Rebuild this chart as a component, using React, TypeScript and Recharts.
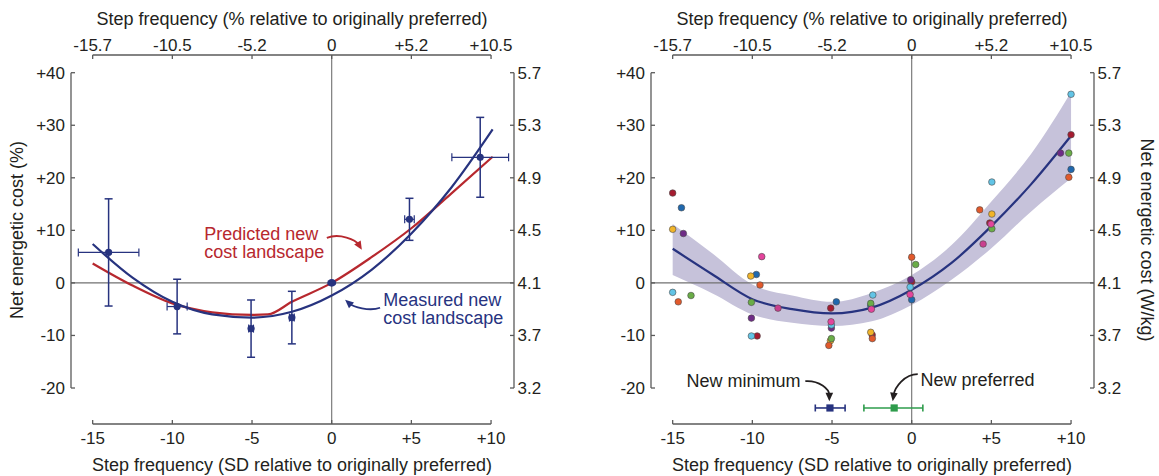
import React from "react";
import {
  ComposedChart,
  Line,
  Area,
  Scatter,
  ErrorBar,
  XAxis,
  YAxis,
  ReferenceLine,
  ReferenceDot,
} from "recharts";

// ---- shared axes ----
const X_TICKS = [-15, -10, -5, 0, 5, 10];
const X_SD_LABELS = ["-15", "-10", "-5", "0", "+5", "+10"];
const X_PCT_LABELS = ["-15.7", "-10.5", "-5.2", "0", "+5.2", "+10.5"];
const Y_TICKS = [-20, -10, 0, 10, 20, 30, 40];
const Y_PCT_LABELS = ["-20", "-10", "0", "+10", "+20", "+30", "+40"];
const Y_WKG_LABELS = ["3.2", "3.7", "4.1", "4.5", "4.9", "5.3", "5.7"];
const X_DOMAIN: [number, number] = [-16.36, 11.44];
const Y_DOMAIN: [number, number] = [-26.85, 43.37];

// ---- left panel: group means +- SD ----
const MEAN_X = [-14.0, -9.7, -5.06, -2.5, 4.88, 9.32];
const MEAN_Y = [5.8, -4.5, -8.7, -6.6, 12.1, 23.9];
const MEAN_X_SD = [1.9, 0.63, 0.15, 0.15, 0.3, 1.78];
const MEAN_Y_SD = [10.2, 5.2, 5.45, 5.0, 4.0, 7.6];
const ORIGINAL_PREFERRED = [0, 0];

const MEASURED_X = [-15, -12.5, -10, -7.5, -5, -2.5, 0, 2.5, 5, 7.5, 10.1];
const MEASURED_Y = [7.4, 1.0, -3.6, -6.0, -6.6, -5.5, -2.4, 2.5, 9.4, 18.1, 29.2];
const PREDICTED_X = [-15, -12.5, -10, -7.5, -5, -4, -2.5, 0, 2.5, 5, 7.5, 10.1];
const PREDICTED_Y = [3.7, -0.5, -3.9, -5.6, -6.1, -6.0, -3.6, 0, 4.9, 10.4, 17.0, 24.0];

// ---- right panel: individual subjects + fit with band ----
const FIT_X = [-15, -12.5, -10, -7.5, -5, -2.5, 0, 2.5, 5, 7.5, 10];
const FIT_Y = [6.5, 1.6, -3.1, -5.0, -5.8, -4.7, -1.3, 3.8, 10.8, 18.8, 28.0];
const FIT_LO = [1.5, -2.0, -6.0, -7.6, -8.2, -7.3, -4.2, 0.6, 6.6, 13.6, 19.9];
const FIT_HI = [11.2, 5.6, -0.3, -2.4, -3.6, -1.9, 1.5, 7.2, 15.5, 24.6, 36.3];

const SUBJECT_COLORS = ["#a51c30", "#1f68ae", "#f1b429", "#6e2b86", "#62c4e6", "#e2592b", "#6aad47", "#e4449c", "#c93f8e"];
const SUBJECT_POINTS: [number, number][][] = [
  [[-15, 17.1], [-9.7, -10.1], [-5.08, -4.8], [-2.48, -9.9], [0, 0.2], [4.9, 11.4], [10, 28.2]],
  [[-14.45, 14.3], [-9.75, 1.6], [-4.73, -3.6], [-2.57, -4.3], [0, -3.2], [10, 21.6]],
  [[-15, 10.2], [-10.1, 1.3], [-5.1, -11.0], [-2.57, -9.4], [5.03, 13.1]],
  [[-14.33, 9.4], [-10.06, -6.7], [-5.04, -8.6], [-0.06, 0.6], [9.34, 24.7]],
  [[-15, -1.8], [-10.06, -10.1], [-5.04, -8.0], [-2.44, -2.3], [-0.1, -0.8], [5.03, 19.2], [10, 35.9]],
  [[-14.65, -3.6], [-9.52, -0.4], [-5.2, -11.9], [-2.47, -10.6], [0, 4.9], [4.27, 13.9], [9.86, 20.1]],
  [[-13.85, -2.4], [-10.06, -3.7], [-5.04, -10.6], [-2.57, -3.9], [0.25, 3.5], [5.03, 10.3], [9.86, 24.7]],
  [[-9.41, 5.0], [-5.06, -7.4], [-2.53, -5.0], [-0.1, -2.2], [4.98, 11.2]],
  [[-8.39, -4.8], [4.48, 7.4]],
];

const NEW_MIN_X = -5.13;
const NEW_MIN_ERR = [0.92, 0.95];
const NEW_PREF_X = -1.1;
const NEW_PREF_ERR = [1.9, 1.8];
const NEW_MARKER_Y = -23.8;

// annotation anchors (data units)
const PREDICTED_NOTE_AT = [-8.0, 8.2];
const PREDICTED_ARROW_TIP = [1.89, 6.3];
const MEASURED_NOTE_AT = [3.23, -4.3];
const MEASURED_ARROW_TIP = [0.84, -3.2];
const NEW_MIN_NOTE_AT = [-14.13, -19.9];
const NEW_MIN_ARROW_TIP = [-5.17, -22.5];
const NEW_PREF_NOTE_AT = [0.55, -19.6];
const NEW_PREF_ARROW_TIP = [-1.19, -22.5];

// ---- styles ----
const FONT = '"Liberation Sans", Arial, Helvetica, sans-serif';
const INK = "#231f20";
const AXIS_GREY = "#5a5a5a";
const ZERO_GREY = "#707070";
const NAVY = "#27337f";
const RED = "#b7282e";
const GREEN = "#2e9c4c";
const BAND = "#c6c2da";
const TICK_FS = 17;
const TITLE_FS = 18;

const measuredData = MEASURED_X.map((x, i) => ({ x, y: MEASURED_Y[i] }));
const predictedData = PREDICTED_X.map((x, i) => ({ x, y: PREDICTED_Y[i] }));
const meanData = MEAN_X.map((x, i) => ({ x, y: MEAN_Y[i], ex: MEAN_X_SD[i], ey: MEAN_Y_SD[i] }));
const fitData = FIT_X.map((x, i) => ({ x, fit: FIT_Y[i], band: [FIT_LO[i], FIT_HI[i]] }));

function BottomTick({ x, y, payload }: any) {
  return (
    <g>
      <line x1={x} x2={x} y1={y} y2={y - 4} stroke={AXIS_GREY} strokeWidth={1.3} />
      <text x={x} y={y + 19.5} textAnchor="middle" fontSize={TICK_FS} fontFamily={FONT} fill={INK}>
        {X_SD_LABELS[X_TICKS.indexOf(payload.value)]}
      </text>
    </g>
  );
}

function TopTick({ x, y, payload }: any) {
  return (
    <g>
      <line x1={x} x2={x} y1={y} y2={y + 4} stroke={AXIS_GREY} strokeWidth={1.3} />
      <text x={x} y={y - 4.5} textAnchor="middle" fontSize={TICK_FS} fontFamily={FONT} fill={INK}>
        {X_PCT_LABELS[X_TICKS.indexOf(payload.value)]}
      </text>
    </g>
  );
}

function LeftTick({ x, y, payload }: any) {
  return (
    <g>
      <line x1={x} x2={x + 4} y1={y} y2={y} stroke={AXIS_GREY} strokeWidth={1.3} />
      <text x={x - 6} y={y + 6} textAnchor="end" fontSize={TICK_FS} fontFamily={FONT} fill={INK}>
        {Y_PCT_LABELS[Y_TICKS.indexOf(payload.value)]}
      </text>
    </g>
  );
}

function RightTick({ x, y, payload }: any) {
  return (
    <g>
      <line x1={x} x2={x - 4} y1={y} y2={y} stroke={AXIS_GREY} strokeWidth={1.3} />
      <text x={x + 3.5} y={y + 6} textAnchor="start" fontSize={TICK_FS} fontFamily={FONT} fill={INK}>
        {Y_WKG_LABELS[Y_TICKS.indexOf(payload.value)]}
      </text>
    </g>
  );
}

function Title({ x, y, text, rotate }: any) {
  return (
    <text
      x={x}
      y={y}
      textAnchor="middle"
      fontSize={TITLE_FS}
      fontFamily={FONT}
      fill={INK}
      transform={rotate ? `rotate(${rotate}, ${x}, ${y})` : undefined}
    >
      {text}
    </text>
  );
}

// axis titles drawn over the chart, in the chart's own pixel frame
function Titles({ width, leftTitle, rightTitle }: any) {
  return (
    <svg width={width} height={476} style={{ position: "absolute", left: 0, top: 0, pointerEvents: "none" }}>
      <Title x={292} y={25} text="Step frequency (% relative to originally preferred)" />
      <Title x={292} y={471} text="Step frequency (SD relative to originally preferred)" />
      {leftTitle && <Title x={23} y={230} rotate={-90} text="Net energetic cost (%)" />}
      {rightTitle && <Title x={561} y={240} rotate={90} text="Net energetic cost (W/kg)" />}
    </svg>
  );
}

function Note({ cx, cy, lines, color, gap = 18 }: any) {
  return (
    <text x={cx} y={cy} fontSize={TITLE_FS} fontFamily={FONT} fill={color}>
      {lines.map((l: string, i: number) => (
        <tspan key={i} x={cx} y={cy + i * gap}>
          {l}
        </tspan>
      ))}
    </text>
  );
}

// curve from (s) through controls (a, b) to the tip, offsets in px relative to the tip
function CurvedArrow({ cx, cy, path, color }: any) {
  const [sx, sy, ax, ay, bx, by] = path;
  const d = Math.hypot(bx, by) || 1;
  const ux = -bx / d;
  const uy = -by / d;
  const L = 8.5;
  const W = 3.8;
  const baseX = cx - ux * L;
  const baseY = cy - uy * L;
  const pts = `${cx},${cy} ${baseX - uy * W},${baseY + ux * W} ${baseX + uy * W},${baseY - ux * W}`;
  return (
    <g>
      <path
        d={`M${cx + sx},${cy + sy} C${cx + ax},${cy + ay} ${cx + bx},${cy + by} ${cx - ux * 6},${cy - uy * 6}`}
        fill="none"
        stroke={color}
        strokeWidth={1.8}
      />
      <polygon points={pts} fill={color} />
    </g>
  );
}

const FRAME = { stroke: AXIS_GREY, strokeWidth: 1.3, ifOverflow: "visible" as const };

function axesFor(rightWidth: number) {
  const first = X_TICKS[0];
  const last = X_TICKS[X_TICKS.length - 1];
  return [
    <XAxis
      key="xb"
      xAxisId="b"
      dataKey="x"
      type="number"
      domain={X_DOMAIN}
      ticks={X_TICKS}
      interval={0}
      allowDataOverflow
      axisLine={false}
      tickLine={false}
      tickSize={0}
      tickMargin={0}
      height={52}
      tick={<BottomTick />}
    />,
    <XAxis
      key="xt"
      xAxisId="t"
      dataKey="x"
      orientation="top"
      type="number"
      domain={X_DOMAIN}
      ticks={X_TICKS}
      interval={0}
      allowDataOverflow
      axisLine={false}
      tickLine={false}
      tickSize={0}
      tickMargin={0}
      height={55}
      tick={<TopTick />}
    />,
    <YAxis
      key="yl"
      yAxisId="l"
      dataKey="y"
      type="number"
      domain={Y_DOMAIN}
      ticks={Y_TICKS}
      interval={0}
      allowDataOverflow
      axisLine={false}
      tickLine={false}
      tickSize={0}
      tickMargin={0}
      width={71}
      tick={<LeftTick />}
    />,
    <YAxis
      key="yr"
      yAxisId="r"
      orientation="right"
      type="number"
      domain={Y_DOMAIN}
      ticks={Y_TICKS}
      interval={0}
      allowDataOverflow
      axisLine={false}
      tickLine={false}
      tickSize={0}
      tickMargin={0}
      width={rightWidth}
      tick={<RightTick />}
    />,
    <ReferenceLine key="z0" xAxisId="b" yAxisId="l" x={0} stroke={ZERO_GREY} strokeWidth={1.1} />,
    <ReferenceLine key="z1" xAxisId="b" yAxisId="r" y={0} stroke={ZERO_GREY} strokeWidth={1.1} />,
    <ReferenceLine key="fb" xAxisId="b" yAxisId="l" segment={[{ x: first, y: Y_DOMAIN[0] }, { x: last, y: Y_DOMAIN[0] }]} {...FRAME} />,
    <ReferenceLine key="ft" xAxisId="b" yAxisId="l" segment={[{ x: first, y: Y_DOMAIN[1] }, { x: last, y: Y_DOMAIN[1] }]} {...FRAME} />,
    <ReferenceLine key="fl" xAxisId="b" yAxisId="l" segment={[{ x: X_DOMAIN[0], y: Y_TICKS[0] }, { x: X_DOMAIN[0], y: Y_TICKS[Y_TICKS.length - 1] }]} {...FRAME} />,
    <ReferenceLine key="fr" xAxisId="b" yAxisId="l" segment={[{ x: X_DOMAIN[1], y: Y_TICKS[0] }, { x: X_DOMAIN[1], y: Y_TICKS[Y_TICKS.length - 1] }]} {...FRAME} />,
  ];
}

const MARGIN = { top: 0, right: 0, bottom: 0, left: 0 };

function PanelLeft() {
  return (
    <ComposedChart width={580} height={476} data={measuredData} margin={MARGIN}>
      {axesFor(66)}
      <Line
        xAxisId="b"
        yAxisId="l"
        data={predictedData}
        dataKey="y"
        type="monotone"
        stroke={RED}
        strokeWidth={2.2}
        dot={false}
        activeDot={false}
        isAnimationActive={false}
      />
      <Line
        xAxisId="t"
        yAxisId="r"
        dataKey="y"
        type="monotone"
        stroke={NAVY}
        strokeWidth={2.2}
        dot={false}
        activeDot={false}
        isAnimationActive={false}
      />
      <Scatter
        xAxisId="b"
        yAxisId="l"
        data={meanData}
        dataKey="y"
        isAnimationActive={false}
        shape={(p: any) => <circle cx={p.cx} cy={p.cy} r={3.6} fill={NAVY} />}
      >
        <ErrorBar dataKey="ey" direction="y" width={4} stroke={NAVY} strokeWidth={1.5} isAnimationActive={false} />
        <ErrorBar dataKey="ex" direction="x" width={4} stroke={NAVY} strokeWidth={1.2} isAnimationActive={false} />
      </Scatter>
      <Scatter
        xAxisId="b"
        yAxisId="l"
        data={[{ x: ORIGINAL_PREFERRED[0], y: ORIGINAL_PREFERRED[1] }]}
        dataKey="y"
        isAnimationActive={false}
        shape={(p: any) => <ellipse cx={p.cx} cy={p.cy} rx={4.5} ry={3.8} fill={NAVY} />}
      />
      <ReferenceDot
        xAxisId="b"
        yAxisId="l"
        x={PREDICTED_NOTE_AT[0]}
        y={PREDICTED_NOTE_AT[1]}
        r={0}
        shape={(p: any) => <Note cx={p.cx} cy={p.cy} lines={["Predicted new", "cost landscape"]} color={RED} />}
      />
      <ReferenceDot
        xAxisId="b"
        yAxisId="l"
        x={PREDICTED_ARROW_TIP[0]}
        y={PREDICTED_ARROW_TIP[1]}
        r={0}
        shape={(p: any) => <CurvedArrow cx={p.cx} cy={p.cy} path={[-35, -12, -22, -17, -6, -10]} color={RED} />}
      />
      <ReferenceDot
        xAxisId="b"
        yAxisId="l"
        x={MEASURED_NOTE_AT[0]}
        y={MEASURED_NOTE_AT[1]}
        r={0}
        shape={(p: any) => <Note cx={p.cx} cy={p.cy} lines={["Measured new", "cost landscape"]} color={NAVY} />}
      />
      <ReferenceDot
        xAxisId="b"
        yAxisId="l"
        x={MEASURED_ARROW_TIP[0]}
        y={MEASURED_ARROW_TIP[1]}
        r={0}
        shape={(p: any) => <CurvedArrow cx={p.cx} cy={p.cy} path={[35, 8, 24, 12, 8, 7]} color={NAVY} />}
      />
    </ComposedChart>
  );
}

function PanelRight() {
  return (
    <ComposedChart width={579} height={476} data={fitData} margin={MARGIN}>
      {axesFor(65)}
      <Area
        xAxisId="b"
        yAxisId="l"
        dataKey="band"
        type="monotone"
        stroke="none"
        fill={BAND}
        fillOpacity={1}
        dot={false}
        activeDot={false}
        isAnimationActive={false}
      />
      <Line
        xAxisId="t"
        yAxisId="r"
        dataKey="fit"
        type="monotone"
        stroke={NAVY}
        strokeWidth={2.2}
        dot={false}
        activeDot={false}
        isAnimationActive={false}
      />
      {SUBJECT_POINTS.map((pts, s) => (
        <Scatter
          key={s}
          xAxisId="b"
          yAxisId="l"
          data={pts.map(([x, y]) => ({ x, y }))}
          dataKey="y"
          isAnimationActive={false}
          shape={(p: any) => (
            <circle cx={p.cx} cy={p.cy} r={3.3} fill={SUBJECT_COLORS[s]} stroke="#4a4a4a" strokeWidth={0.6} />
          )}
        />
      ))}
      <Scatter
        xAxisId="b"
        yAxisId="l"
        data={[{ x: NEW_MIN_X, y: NEW_MARKER_Y, ex: NEW_MIN_ERR }]}
        dataKey="y"
        isAnimationActive={false}
        shape={(p: any) => <rect x={p.cx - 3.6} y={p.cy - 3.6} width={7.2} height={7.2} fill={NAVY} />}
      >
        <ErrorBar dataKey="ex" direction="x" width={3.5} stroke={NAVY} strokeWidth={1.6} isAnimationActive={false} />
      </Scatter>
      <Scatter
        xAxisId="b"
        yAxisId="l"
        data={[{ x: NEW_PREF_X, y: NEW_MARKER_Y, ex: NEW_PREF_ERR }]}
        dataKey="y"
        isAnimationActive={false}
        shape={(p: any) => <rect x={p.cx - 3.6} y={p.cy - 3.6} width={7.2} height={7.2} fill={GREEN} />}
      >
        <ErrorBar dataKey="ex" direction="x" width={3.5} stroke={GREEN} strokeWidth={1.6} isAnimationActive={false} />
      </Scatter>
      <ReferenceDot
        xAxisId="b"
        yAxisId="l"
        x={NEW_MIN_NOTE_AT[0]}
        y={NEW_MIN_NOTE_AT[1]}
        r={0}
        shape={(p: any) => <Note cx={p.cx} cy={p.cy} lines={["New minimum"]} color={INK} />}
      />
      <ReferenceDot
        xAxisId="b"
        yAxisId="l"
        x={NEW_MIN_ARROW_TIP[0]}
        y={NEW_MIN_ARROW_TIP[1]}
        r={0}
        shape={(p: any) => <CurvedArrow cx={p.cx} cy={p.cy} path={[-24, -20, -10, -21, 0, -12]} color={INK} />}
      />
      <ReferenceDot
        xAxisId="b"
        yAxisId="l"
        x={NEW_PREF_NOTE_AT[0]}
        y={NEW_PREF_NOTE_AT[1]}
        r={0}
        shape={(p: any) => <Note cx={p.cx} cy={p.cy} lines={["New preferred"]} color={INK} />}
      />
      <ReferenceDot
        xAxisId="b"
        yAxisId="l"
        x={NEW_PREF_ARROW_TIP[0]}
        y={NEW_PREF_ARROW_TIP[1]}
        r={0}
        shape={(p: any) => <CurvedArrow cx={p.cx} cy={p.cy} path={[25, -27, 12, -27, 2, -14]} color={INK} />}
      />
    </ComposedChart>
  );
}

export default function App() {
  return (
    <div style={{ position: "absolute", left: 0, top: 0, width: 1159, height: 476, background: "#fff" }}>
      <div style={{ position: "absolute", left: 0, top: 0, width: 580, height: 476 }}>
        <PanelLeft />
        <Titles width={580} leftTitle />
      </div>
      <div style={{ position: "absolute", left: 580, top: 0, width: 579, height: 476 }}>
        <PanelRight />
        <Titles width={579} rightTitle />
      </div>
    </div>
  );
}
